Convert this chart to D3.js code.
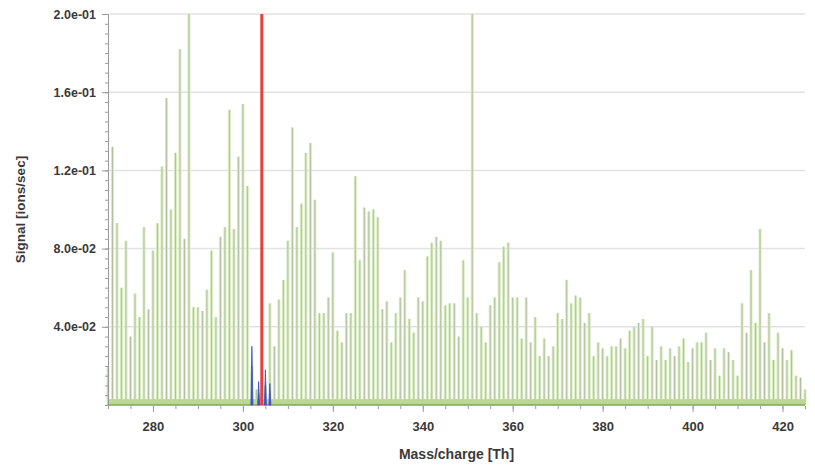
<!DOCTYPE html>
<html>
<head>
<meta charset="utf-8">
<script src="https://cdn.jsdelivr.net/npm/d3@7"></script>
<style>
  body { margin: 0; background: #fff; }
  #chart text { font-family: "Liberation Sans", Arial, sans-serif; font-weight: bold; fill: #3a3a3a; }
</style>
</head>
<body>
<div id="chart"></div>
<script>
// peak list, one stick per nominal mass
const masses = d3.range(270, 426);
const signal = [
  0.020, 0.132, 0.093, 0.060, 0.084, 0.035, 0.057, 0.045, 0.091, 0.049,
  0.079, 0.093, 0.122, 0.157, 0.100, 0.129, 0.182, 0.085, 0.200, 0.050,
  0.050, 0.048, 0.059, 0.079, 0.045, 0.086, 0.091, 0.151, 0.090, 0.127,
  0.154, 0.112, 0.020, 0.008, 0.006, 0.010, 0.052, 0.030, 0.054, 0.064,
  0.084, 0.142, 0.091, 0.103, 0.129, 0.134, 0.105, 0.047, 0.047, 0.055,
  0.078, 0.038, 0.032, 0.047, 0.047, 0.117, 0.074, 0.101, 0.099, 0.100,
  0.096, 0.049, 0.053, 0.032, 0.047, 0.055, 0.069, 0.044, 0.037, 0.055,
  0.053, 0.076, 0.083, 0.086, 0.084, 0.051, 0.052, 0.052, 0.035, 0.074,
  0.055, 0.200, 0.047, 0.040, 0.032, 0.051, 0.055, 0.073, 0.081, 0.083,
  0.055, 0.055, 0.034, 0.055, 0.032, 0.045, 0.025, 0.034, 0.025, 0.030,
  0.047, 0.044, 0.064, 0.052, 0.056, 0.055, 0.042, 0.047, 0.025, 0.032,
  0.029, 0.025, 0.030, 0.030, 0.034, 0.029, 0.038, 0.040, 0.042, 0.044,
  0.025, 0.040, 0.023, 0.030, 0.023, 0.029, 0.025, 0.030, 0.034, 0.022,
  0.029, 0.032, 0.032, 0.037, 0.023, 0.029, 0.015, 0.029, 0.027, 0.023,
  0.015, 0.052, 0.037, 0.069, 0.042, 0.090, 0.032, 0.047, 0.023, 0.037,
  0.029, 0.023, 0.028, 0.015, 0.014, 0.008
];

// isotope pattern in blue and the selected mass marker
const blueMasses = [302, 303.5, 305, 306];
const blueSignal = [0.030, 0.012, 0.018, 0.011];
const markerMass = 304.2;
const baselineLevel = 0.003;

const yTicks = [0.04, 0.08, 0.12, 0.16, 0.2];
const xTicks = [280, 300, 320, 340, 360, 380, 400, 420];

const width = 815, height = 468;
const margin = { top: 14, right: 10, bottom: 63, left: 108 };

const svg = d3.select("#chart").append("svg")
  .attr("width", width)
  .attr("height", height);

const x = d3.scaleLinear().domain([270, 425]).range([margin.left, width - margin.right]);
const y = d3.scaleLinear().domain([0, 0.2]).range([height - margin.bottom, margin.top]);

// horizontal grid
svg.append("g")
  .selectAll("line")
  .data(yTicks)
  .enter().append("line")
  .attr("x1", x(270)).attr("x2", x(425))
  .attr("y1", d => y(d)).attr("y2", d => y(d))
  .attr("stroke", "#e2e2e2")
  .attr("stroke-width", 1.5);

// wide pale bars
svg.append("g")
  .selectAll("line")
  .data(masses)
  .enter().append("line")
  .attr("x1", d => x(d)).attr("x2", d => x(d))
  .attr("y1", y(0))
  .attr("y2", (d, i) => y(signal[i]))
  .attr("stroke", "#d9ecc1")
  .attr("stroke-width", 3);

// thin centre lines
svg.append("g")
  .selectAll("line")
  .data(masses)
  .enter().append("line")
  .attr("x1", d => x(d)).attr("x2", d => x(d))
  .attr("y1", y(0))
  .attr("y2", (d, i) => y(signal[i]))
  .attr("stroke", "#a8b596")
  .attr("stroke-width", 0.8);

// noise band along the baseline
svg.append("rect")
  .attr("x", x(270))
  .attr("y", y(baselineLevel))
  .attr("width", x(425) - x(270))
  .attr("height", y(0) - y(baselineLevel))
  .attr("fill", "#bcd69a");
svg.append("line")
  .attr("x1", x(270)).attr("x2", x(425))
  .attr("y1", y(0)).attr("y2", y(0))
  .attr("stroke", "#7fa94f")
  .attr("stroke-width", 1.5);

// blue peaks
svg.append("g")
  .selectAll("path")
  .data(blueMasses)
  .enter().append("path")
  .attr("d", (d, i) => `M${x(d) - 1},${y(0)}L${x(d)},${y(blueSignal[i])}L${x(d) + 1},${y(0)}Z`)
  .attr("fill", "#3b4fc8")
  .attr("stroke", "#3b4fc8")
  .attr("stroke-width", 0.8);

// red marker
svg.append("line")
  .attr("x1", x(markerMass)).attr("x2", x(markerMass))
  .attr("y1", y(0)).attr("y2", y(0.2))
  .attr("stroke", "#e5423a")
  .attr("stroke-width", 3);

// y axis
const yAxis = svg.append("g")
  .attr("transform", `translate(${margin.left},0)`)
  .call(d3.axisLeft(y).tickValues(d3.range(0, 0.2001, 0.005)).tickSize(3).tickFormat(""));
yAxis.select(".domain").attr("stroke", "#9a9a9a");
yAxis.selectAll(".tick line").attr("stroke", "#9a9a9a");

const yMajor = svg.append("g")
  .attr("transform", `translate(${margin.left},0)`)
  .call(d3.axisLeft(y).tickValues(yTicks).tickSize(6).tickPadding(6)
    .tickFormat(d => d.toExponential(1).replace(/e([+-])(\d)$/, "e$10$2")));
yMajor.select(".domain").remove();
yMajor.selectAll(".tick line").attr("stroke", "#9a9a9a");
yMajor.selectAll("text").style("font-size", "12.5px");

// x axis
const xAxis = svg.append("g")
  .attr("transform", `translate(0,${y(0) + 1})`)
  .call(d3.axisBottom(x).tickValues(d3.range(270, 426, 5)).tickSize(3).tickFormat(""));
xAxis.select(".domain").remove();
xAxis.selectAll(".tick line").attr("stroke", "#9a9a9a");

const xMajor = svg.append("g")
  .attr("transform", `translate(0,${y(0) + 1})`)
  .call(d3.axisBottom(x).tickValues(xTicks).tickSize(6).tickPadding(10));
xMajor.select(".domain").remove();
xMajor.selectAll(".tick line").attr("stroke", "#9a9a9a");
xMajor.selectAll("text").style("font-size", "13px");

// axis titles
svg.append("text")
  .attr("x", (x(270) + x(425)) / 2)
  .attr("y", 459)
  .attr("text-anchor", "middle")
  .style("font-size", "14px")
  .text("Mass/charge [Th]");

svg.append("text")
  .attr("transform", `translate(25,${(y(0) + y(0.2)) / 2}) rotate(-90)`)
  .attr("text-anchor", "middle")
  .style("font-size", "13.5px")
  .text("Signal [ions/sec]");
</script>
</body>
</html>
